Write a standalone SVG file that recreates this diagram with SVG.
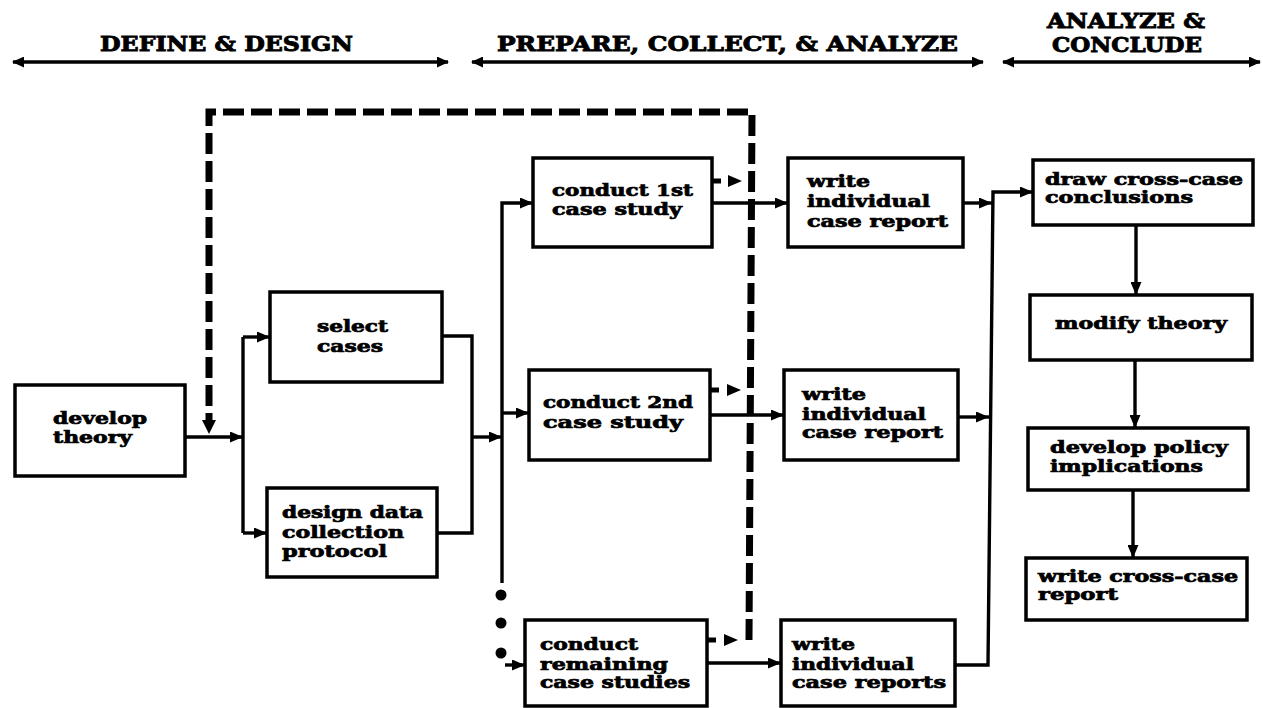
<svg xmlns="http://www.w3.org/2000/svg" width="1263" height="708" viewBox="0 0 1263 708">
  <style>
    .box { fill: #fff; stroke: #000; stroke-width: 3.5; }
    .lbl { font-family: "DejaVu Serif", "Liberation Serif", serif; font-weight: bold; font-size: 16px; fill: #000; stroke: #000; stroke-width: 0.7; }
    .hdr { font-family: "DejaVu Serif", "Liberation Serif", serif; font-weight: bold; font-size: 21px; fill: #000; stroke: #000; stroke-width: 0.9; }
    .wire { fill: none; stroke: #000; stroke-width: 3.4; }
    .span { fill: none; stroke: #000; stroke-width: 3.4; }
    .dash { fill: none; stroke: #000; stroke-width: 7; stroke-dasharray: 21 7; }
    .stub { fill: none; stroke: #000; stroke-width: 5; }
  </style>
  <defs>
    <marker id="arrow" viewBox="0 0 13 11" refX="13" refY="5.5" markerWidth="13" markerHeight="11" markerUnits="userSpaceOnUse" orient="auto">
      <path d="M0,0 L13,5.5 L0,11 Z" fill="#000"/>
    </marker>
    <marker id="spanHead" viewBox="0 0 12 11" refX="11" refY="5.5" markerWidth="12" markerHeight="11" markerUnits="userSpaceOnUse" orient="auto-start-reverse">
      <path d="M0,0 L12,5.5 L0,11 Z" fill="#000"/>
    </marker>
  </defs>

  <!-- phase headings -->
  <g id="phases">
    <text class="hdr" x="100" y="51" textLength="253" lengthAdjust="spacingAndGlyphs">DEFINE &amp; DESIGN</text>
    <path class="span" d="M13,62 H448" marker-start="url(#spanHead)" marker-end="url(#spanHead)"/>
    <text class="hdr" x="497" y="51" textLength="461" lengthAdjust="spacingAndGlyphs">PREPARE, COLLECT, &amp; ANALYZE</text>
    <path class="span" d="M472,62 H983" marker-start="url(#spanHead)" marker-end="url(#spanHead)"/>
    <text class="hdr" x="1047" y="28" textLength="158" lengthAdjust="spacingAndGlyphs">ANALYZE &amp;</text>
    <text class="hdr" x="1052" y="52" textLength="150" lengthAdjust="spacingAndGlyphs">CONCLUDE</text>
    <path class="span" d="M1003,62 H1260" marker-start="url(#spanHead)" marker-end="url(#spanHead)"/>
  </g>

  <!-- connectors -->
  <g id="connectors">
    <!-- feedback loop -->
    <path class="dash" d="M749,640 L752,112 H209 V422"/>
    <path d="M202,420 L216,420 L209,434 Z" fill="#000"/>

    <path class="wire" d="M185,437 H243" marker-end="url(#arrow)"/>
    <path class="wire" d="M243,337 V533"/>
    <path class="wire" d="M243,337 H270" marker-end="url(#arrow)"/>
    <path class="wire" d="M243,533 H267" marker-end="url(#arrow)"/>

    <path class="wire" d="M442,336 H472 V533 H437"/>
    <path class="wire" d="M472,437 H502" marker-end="url(#arrow)"/>

    <path class="wire" d="M502,583 V203 H533" marker-end="url(#arrow)"/>
    <path class="wire" d="M502,413 H529" marker-end="url(#arrow)"/>
    <circle cx="501" cy="595" r="5.5" fill="#000"/>
    <circle cx="501" cy="623" r="5.5" fill="#000"/>
    <circle cx="501" cy="653" r="5.5" fill="#000"/>
    <path class="wire" d="M505,665 H525" marker-end="url(#arrow)"/>

    <path class="wire" d="M712,203 H788" marker-end="url(#arrow)"/>
    <path class="wire" d="M710,415 H784" marker-end="url(#arrow)"/>
    <path class="wire" d="M707,663 H781" marker-end="url(#arrow)"/>

    <!-- stubs into the feedback loop -->
    <path class="stub" d="M712,181 H721"/>
    <path d="M728,175 L742,181 L728,187 Z" fill="#000"/>
    <path class="stub" d="M710,390 H719"/>
    <path d="M727,384 L741,390 L727,396 Z" fill="#000"/>
    <path class="stub" d="M707,640 H716"/>
    <path d="M724,634 L738,640 L724,646 Z" fill="#000"/>

    <path class="wire" d="M963,203 H992" marker-end="url(#arrow)"/>
    <path class="wire" d="M958,417 H989" marker-end="url(#arrow)"/>
    <path class="wire" d="M955,665 H988 L993,192 H1033" marker-end="url(#arrow)"/>

    <path class="wire" d="M1136,225 V295" marker-end="url(#arrow)"/>
    <path class="wire" d="M1135,360 V428" marker-end="url(#arrow)"/>
    <path class="wire" d="M1133,490 V558" marker-end="url(#arrow)"/>
  </g>

  <g id="develop-theory">
    <rect class="box" x="15" y="385" width="170" height="91"/>
    <text class="lbl" x="53" y="424" textLength="94" lengthAdjust="spacingAndGlyphs">develop</text>
    <text class="lbl" x="53" y="443" textLength="79" lengthAdjust="spacingAndGlyphs">theory</text>
  </g>

  <g id="select-cases">
    <rect class="box" x="270" y="292" width="172" height="90"/>
    <text class="lbl" x="317" y="332" textLength="71" lengthAdjust="spacingAndGlyphs">select</text>
    <text class="lbl" x="317" y="352" textLength="66" lengthAdjust="spacingAndGlyphs">cases</text>
  </g>

  <g id="design-protocol">
    <rect class="box" x="267" y="488" width="170" height="89"/>
    <text class="lbl" x="282" y="518" textLength="141" lengthAdjust="spacingAndGlyphs">design data</text>
    <text class="lbl" x="282" y="538" textLength="122" lengthAdjust="spacingAndGlyphs">collection</text>
    <text class="lbl" x="282" y="557" textLength="105" lengthAdjust="spacingAndGlyphs">protocol</text>
  </g>

  <g id="conduct-1st">
    <rect class="box" x="533" y="158" width="179" height="89"/>
    <text class="lbl" x="552" y="196" textLength="141" lengthAdjust="spacingAndGlyphs">conduct 1st</text>
    <text class="lbl" x="552" y="215" textLength="130" lengthAdjust="spacingAndGlyphs">case study</text>
  </g>

  <g id="conduct-2nd">
    <rect class="box" x="529" y="370" width="181" height="90"/>
    <text class="lbl" x="543" y="408" textLength="150" lengthAdjust="spacingAndGlyphs">conduct 2nd</text>
    <text class="lbl" x="543" y="428" textLength="140" lengthAdjust="spacingAndGlyphs">case study</text>
  </g>

  <g id="conduct-remaining">
    <rect class="box" x="525" y="620" width="182" height="86"/>
    <text class="lbl" x="540" y="650" textLength="98" lengthAdjust="spacingAndGlyphs">conduct</text>
    <text class="lbl" x="540" y="670" textLength="128" lengthAdjust="spacingAndGlyphs">remaining</text>
    <text class="lbl" x="540" y="688" textLength="150" lengthAdjust="spacingAndGlyphs">case studies</text>
  </g>

  <g id="report-1">
    <rect class="box" x="788" y="158" width="175" height="89"/>
    <text class="lbl" x="807" y="187" textLength="63" lengthAdjust="spacingAndGlyphs">write</text>
    <text class="lbl" x="807" y="207" textLength="123" lengthAdjust="spacingAndGlyphs">individual</text>
    <text class="lbl" x="807" y="227" textLength="141" lengthAdjust="spacingAndGlyphs">case report</text>
  </g>

  <g id="report-2">
    <rect class="box" x="784" y="370" width="174" height="90"/>
    <text class="lbl" x="802" y="400" textLength="64" lengthAdjust="spacingAndGlyphs">write</text>
    <text class="lbl" x="802" y="420" textLength="124" lengthAdjust="spacingAndGlyphs">individual</text>
    <text class="lbl" x="802" y="438" textLength="141" lengthAdjust="spacingAndGlyphs">case report</text>
  </g>

  <g id="report-remaining">
    <rect class="box" x="781" y="620" width="174" height="86"/>
    <text class="lbl" x="792" y="650" textLength="63" lengthAdjust="spacingAndGlyphs">write</text>
    <text class="lbl" x="792" y="670" textLength="122" lengthAdjust="spacingAndGlyphs">individual</text>
    <text class="lbl" x="792" y="688" textLength="154" lengthAdjust="spacingAndGlyphs">case reports</text>
  </g>

  <g id="cross-case-conclusions">
    <rect class="box" x="1033" y="160" width="220" height="65"/>
    <text class="lbl" x="1045" y="185" textLength="198" lengthAdjust="spacingAndGlyphs">draw cross-case</text>
    <text class="lbl" x="1045" y="203" textLength="148" lengthAdjust="spacingAndGlyphs">conclusions</text>
  </g>

  <g id="modify-theory">
    <rect class="box" x="1030" y="295" width="222" height="65"/>
    <text class="lbl" x="1055" y="329" textLength="172" lengthAdjust="spacingAndGlyphs">modify theory</text>
  </g>

  <g id="policy-implications">
    <rect class="box" x="1028" y="428" width="220" height="62"/>
    <text class="lbl" x="1050" y="453" textLength="178" lengthAdjust="spacingAndGlyphs">develop policy</text>
    <text class="lbl" x="1050" y="472" textLength="153" lengthAdjust="spacingAndGlyphs">implications</text>
  </g>

  <g id="cross-case-report">
    <rect class="box" x="1026" y="558" width="221" height="62"/>
    <text class="lbl" x="1038" y="582" textLength="200" lengthAdjust="spacingAndGlyphs">write cross-case</text>
    <text class="lbl" x="1038" y="600" textLength="80" lengthAdjust="spacingAndGlyphs">report</text>
  </g>
</svg>
